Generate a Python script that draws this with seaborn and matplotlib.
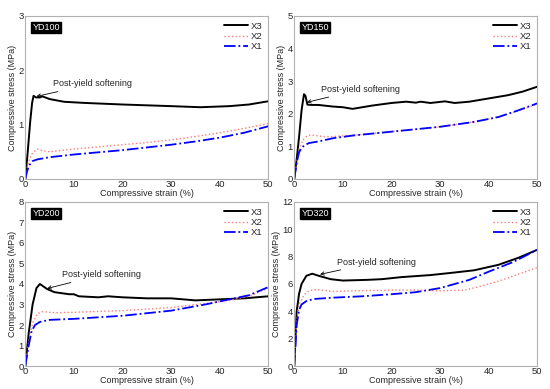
import numpy as np
import pandas as pd
import seaborn as sns
import matplotlib.pyplot as plt

# --- data (strain %, stress MPa) ---
yd100_x3_x = [0, 0.5, 1.0, 1.4, 1.7, 2.2, 3.0, 3.5, 5, 8, 12, 20, 30, 36, 42, 46, 50]
yd100_x3_y = [0, 0.5, 1.05, 1.4, 1.53, 1.50, 1.50, 1.52, 1.47, 1.42, 1.40, 1.37, 1.34, 1.32, 1.34, 1.37, 1.43]
yd100_x2_x = [0, 0.4, 0.8, 1.5, 2.5, 3.5, 5, 7, 10, 15, 20, 25, 30, 35, 40, 45, 50]
yd100_x2_y = [0, 0.2, 0.35, 0.48, 0.55, 0.52, 0.50, 0.52, 0.55, 0.59, 0.63, 0.67, 0.72, 0.78, 0.85, 0.93, 1.02]
yd100_x1_x = [0, 0.4, 0.8, 1.5, 2.5, 5, 10, 15, 20, 25, 30, 35, 40, 45, 50]
yd100_x1_y = [0, 0.15, 0.25, 0.33, 0.36, 0.40, 0.45, 0.49, 0.53, 0.58, 0.63, 0.69, 0.76, 0.85, 0.97]

yd150_x3_x = [0, 0.5, 1.0, 1.5, 2.0, 2.3, 2.7, 3.5, 5, 8, 10, 12, 16, 20, 23, 25, 26, 28, 31, 33, 36, 40, 44, 47, 50]
yd150_x3_y = [0, 0.6, 1.3, 2.1, 2.6, 2.55, 2.28, 2.27, 2.27, 2.22, 2.2, 2.15, 2.25, 2.33, 2.37, 2.34, 2.37, 2.33, 2.38, 2.33, 2.37, 2.47, 2.57, 2.68, 2.83]
yd150_x2_x = [0, 0.5, 1.0, 1.8, 2.5, 3.3, 4.5, 6, 8, 10, 12, 20, 30, 37, 42, 46, 50]
yd150_x2_y = [0, 0.5, 0.9, 1.2, 1.3, 1.35, 1.33, 1.30, 1.30, 1.32, 1.34, 1.45, 1.6, 1.75, 1.9, 2.08, 2.3]
yd150_x1_x = [0, 0.5, 1.0, 1.5, 2.0, 3, 5, 8, 12, 20, 30, 37, 42, 46, 50]
yd150_x1_y = [0, 0.5, 0.82, 0.95, 1.02, 1.1, 1.15, 1.25, 1.33, 1.45, 1.6, 1.75, 1.9, 2.1, 2.32]

yd200_x3_x = [0, 0.7, 1.5, 2.3, 3.0, 3.6, 4.5, 6, 9, 10, 11, 15, 17, 20, 25, 30, 35, 40, 45, 50]
yd200_x3_y = [0, 1.6, 3.0, 3.8, 4.0, 3.9, 3.75, 3.6, 3.5, 3.5, 3.4, 3.35, 3.4, 3.35, 3.3, 3.3, 3.2, 3.25, 3.3, 3.4]
yd200_x2_x = [0, 0.7, 1.5, 2.5, 3.5, 5, 6, 10, 20, 30, 37, 42, 46, 50]
yd200_x2_y = [0, 1.2, 2.1, 2.55, 2.65, 2.62, 2.6, 2.62, 2.7, 2.85, 3.05, 3.2, 3.4, 3.8]
yd200_x1_x = [0, 0.7, 1.3, 2.0, 3, 5, 10, 20, 30, 37, 42, 46, 50]
yd200_x1_y = [0, 1.0, 1.7, 2.0, 2.15, 2.25, 2.3, 2.45, 2.7, 3.0, 3.25, 3.45, 3.85]

yd320_x3_x = [0, 0.5, 1.0, 1.5, 2.5, 3.7, 5, 7.5, 10, 15, 18, 22, 28, 32, 37, 42, 46, 50]
yd320_x3_y = [0, 4.0, 5.3, 6.0, 6.6, 6.75, 6.6, 6.35, 6.25, 6.3, 6.35, 6.5, 6.65, 6.8, 7.0, 7.4, 7.9, 8.5]
yd320_x2_x = [0, 0.5, 1.0, 2.0, 3, 4.5, 8, 12, 20, 25, 30, 35, 38, 42, 46, 50]
yd320_x2_y = [0, 3.3, 4.5, 5.2, 5.5, 5.6, 5.45, 5.5, 5.55, 5.55, 5.5, 5.55, 5.8, 6.2, 6.7, 7.2]
yd320_x1_x = [0, 0.5, 1.0, 1.5, 2.5, 4, 8, 14, 20, 25, 30, 36, 40, 45, 50]
yd320_x1_y = [0, 3.0, 4.1, 4.5, 4.75, 4.9, 5.0, 5.1, 5.25, 5.4, 5.7, 6.3, 6.9, 7.6, 8.5]

panels = [
    ("YD100", 3, 1, (yd100_x3_x, yd100_x3_y), (yd100_x2_x, yd100_x2_y), (yd100_x1_x, yd100_x1_y), (5.8, 1.75), (2.3, 1.52)),
    ("YD150", 5, 1, (yd150_x3_x, yd150_x3_y), (yd150_x2_x, yd150_x2_y), (yd150_x1_x, yd150_x1_y), (5.6, 2.75), (2.6, 2.35)),
    ("YD200", 8, 1, (yd200_x3_x, yd200_x3_y), (yd200_x2_x, yd200_x2_y), (yd200_x1_x, yd200_x1_y), (7.6, 4.45), (4.5, 3.78)),
    ("YD320", 12, 2, (yd320_x3_x, yd320_x3_y), (yd320_x2_x, yd320_x2_y), (yd320_x1_x, yd320_x1_y), (8.7, 7.6), (5.3, 6.7)),
]

sns.set_style("white")
plt.rcParams['font.family'] = ['Liberation Sans', 'DejaVu Sans']

fig = plt.figure(figsize=(5.5, 3.89), dpi=100)
positions = [
    [0.046, 0.540, 0.442, 0.419],
    [0.535, 0.540, 0.442, 0.419],
    [0.046, 0.059, 0.442, 0.422],
    [0.535, 0.059, 0.442, 0.422],
]

styles = [("X3", "black", "-", 1.4), ("X2", "#ff7a7a", ":", 1.0), ("X1", "blue", "-.", 1.3)]

for pos, (name, ymax, ystep, s3, s2, s1, txt, tip) in zip(positions, panels):
    ax = fig.add_axes(pos)
    for (lab, col, ls, lw), (xs, ys) in zip(styles, [s3, s2, s1]):
        df = pd.DataFrame({"strain": xs, "stress": ys})
        sns.lineplot(data=df, x="strain", y="stress", ax=ax, color=col,
                     linestyle=ls, linewidth=lw, label=lab, estimator=None, sort=False)
    ax.set_xlim(0, 50)
    ax.set_ylim(0, ymax)
    ax.set_xticks(np.arange(0, 51, 10))
    ax.set_yticks(np.arange(0, ymax + 0.1, ystep))
    ax.tick_params(labelsize=6.8, length=0, pad=1)
    ax.set_xlabel("Compressive strain (%)", fontsize=6.5, labelpad=0)
    ax.set_ylabel("Compressive stress (MPa)", fontsize=6.5, labelpad=1)
    for sp in ax.spines.values():
        sp.set_color("#b0b0b0")
        sp.set_linewidth(0.8)
    ax.legend(loc="upper right", frameon=False, fontsize=6.8, handlelength=2.6,
              handletextpad=0.3, labelspacing=0.15, borderaxespad=0.2)
    ax.text(0.03, 0.93, name, transform=ax.transAxes, color="white", fontsize=6.5,
            va="center", ha="left",
            bbox=dict(boxstyle="square,pad=0.15", facecolor="black", edgecolor="black"))
    ax.annotate("Post-yield softening", xy=tip, xytext=txt, fontsize=6.5, va="center",
                arrowprops=dict(arrowstyle="->", color="black", lw=0.6,
                                mutation_scale=6, shrinkA=0, shrinkB=0))

fig.savefig("out.png", dpi=100)
